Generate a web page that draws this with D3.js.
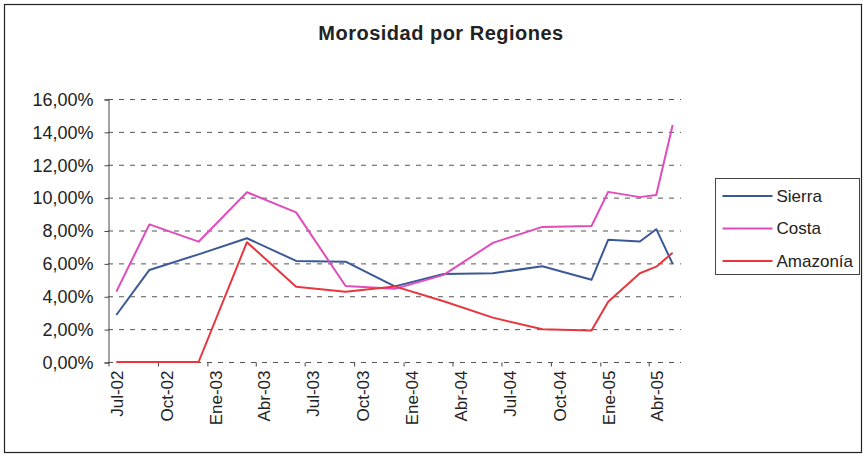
<!DOCTYPE html>
<html>
<head>
<meta charset="utf-8">
<script src="https://cdn.jsdelivr.net/npm/d3@7"></script>
<style>
  body { margin: 0; background: #fff; }
  svg { font-family: Arial, "Liberation Sans", sans-serif; }
</style>
</head>
<body>
<div id="chart"></div>
<script>
// Observation months (yyyy-mm) and morosidad in percent
const months = ['2002-07', '2002-09', '2002-12', '2003-03', '2003-06', '2003-09', '2003-12',
    '2004-03', '2004-06', '2004-09', '2004-12', '2005-01', '2005-03', '2005-04', '2005-05'];
const sierra = [2.86, 5.6, 6.55, 7.53, 6.15, 6.1, 4.6, 5.35, 5.4, 5.82, 5.0, 7.43, 7.33, 8.08, 5.97];
const costa = [4.28, 8.37, 7.32, 10.33, 9.1, 4.62, 4.45, 5.3, 7.25, 8.22, 8.27, 10.35, 10.03, 10.16, 14.42];
const amazonia = [0, 0, 0, 7.29, 4.58, 4.28, 4.6, 3.7, 2.7, 1.99, 1.91, 3.67, 5.4, 5.8, 6.65];

const seriesNames = ['Sierra', 'Costa', 'Amazonía'];
const seriesColors = ['#3b5896', '#e04cbc', '#e8363e'];
const tickLabels = ['Jul-02', 'Oct-02', 'Ene-03', 'Abr-03', 'Jul-03', 'Oct-03',
    'Ene-04', 'Abr-04', 'Jul-04', 'Oct-04', 'Ene-05', 'Abr-05'];
const yTicks = [0, 2, 4, 6, 8, 10, 12, 14, 16];

const width = 866;
const height = 460;
const plot = { left: 108, top: 99, right: 681, bottom: 362 };

const parseMonth = d3.timeParse('%Y-%m');
const dates = months.map(parseMonth);

const svg = d3.select('#chart')
    .append('svg')
    .attr('width', width)
    .attr('height', height);

// Outer frame
svg.append('rect')
    .attr('x', 4.5)
    .attr('y', 4.5)
    .attr('width', 857)
    .attr('height', 448)
    .attr('fill', '#fff')
    .attr('stroke', '#222')
    .attr('stroke-width', 1.2);

svg.append('text')
    .attr('x', 441)
    .attr('y', 40)
    .attr('text-anchor', 'middle')
    .attr('font-size', 20)
    .attr('font-weight', 'bold')
    .attr('letter-spacing', 0.5)
    .attr('fill', '#222')
    .text('Morosidad por Regiones');

// Scales: monthly date axis, points sit in the middle of their month
const xScale = d3.scaleTime()
    .domain([new Date(2002, 6, 1), new Date(2005, 5, 1)])
    .range([plot.left, plot.right]);

const yScale = d3.scaleLinear()
    .domain([0, 16])
    .range([plot.bottom, plot.top]);

const midMonth = d => (xScale(d) + xScale(d3.timeMonth.offset(d, 1))) / 2;

const esFormat = d3.formatLocale({ decimal: ',', thousands: '.', grouping: [3], currency: ['', '€'] })
    .format('.2%');

// Dashed gridlines
svg.append('g')
    .selectAll('line')
    .data(yTicks)
    .enter()
    .append('line')
    .attr('x1', plot.left)
    .attr('x2', plot.right)
    .attr('y1', d => yScale(d) + 0.5)
    .attr('y2', d => yScale(d) + 0.5)
    .attr('stroke', '#555')
    .attr('stroke-width', 1)
    .attr('stroke-dasharray', '5,6');

// Y axis
const yAxis = d3.axisLeft(yScale)
    .tickValues(yTicks)
    .tickSize(4)
    .tickPadding(11)
    .tickFormat(d => esFormat(d / 100));

const gy = svg.append('g')
    .attr('transform', `translate(${plot.left + 0.5},0.5)`)
    .call(yAxis);
gy.select('.domain').attr('stroke', '#444');
gy.selectAll('.tick line').attr('stroke', '#444');
gy.selectAll('.tick text')
    .attr('font-size', 18)
    .attr('font-family', 'Arial, "Liberation Sans", sans-serif')
    .attr('fill', '#222');

// X axis, ticks every quarter, labels rotated
const tickDates = d3.timeMonth.every(3).range(new Date(2002, 6, 1), new Date(2005, 5, 1));

const xAxis = d3.axisBottom(xScale)
    .tickValues(tickDates)
    .tickSize(4)
    .tickFormat((d, i) => tickLabels[i]);

const gx = svg.append('g')
    .attr('transform', `translate(0.5,${plot.bottom + 0.5})`)
    .call(xAxis);
gx.select('.domain').remove();
gx.selectAll('.tick line').attr('stroke', '#444');
gx.selectAll('.tick text')
    .attr('font-size', 17)
    .attr('font-family', 'Arial, "Liberation Sans", sans-serif')
    .attr('fill', '#222')
    .attr('text-anchor', 'end')
    .attr('x', -8)
    .attr('y', 0)
    .attr('dy', '0.35em')
    .attr('transform', d => `translate(${midMonth(d) - xScale(d)},0) rotate(-90)`);

// Lines
const line = d3.line()
    .x(d => midMonth(d.date))
    .y(d => yScale(d.value));

[sierra, costa, amazonia].forEach((values, k) => {
    const series = values.map((v, i) => ({ date: dates[i], value: v }));
    svg.append('path')
        .datum(series)
        .attr('d', line)
        .attr('fill', 'none')
        .attr('stroke', seriesColors[k])
        .attr('stroke-width', 2)
        .attr('stroke-linejoin', 'round');
});

// Legend
const legend = svg.append('g')
    .attr('transform', 'translate(715.5,178.5)');

legend.append('rect')
    .attr('width', 144)
    .attr('height', 96)
    .attr('fill', '#fff')
    .attr('stroke', '#444')
    .attr('stroke-width', 1);

const items = legend.selectAll('.item')
    .data(seriesNames)
    .enter()
    .append('g')
    .attr('class', 'item')
    .attr('transform', (d, i) => `translate(0,${17.5 + i * 32.5})`);

items.append('line')
    .attr('x1', 7)
    .attr('x2', 57)
    .attr('stroke', (d, i) => seriesColors[i])
    .attr('stroke-width', 2);

items.append('text')
    .attr('x', 61)
    .attr('dy', '0.35em')
    .attr('font-size', 17)
    .attr('fill', '#222')
    .text(d => d);
</script>
</body>
</html>
